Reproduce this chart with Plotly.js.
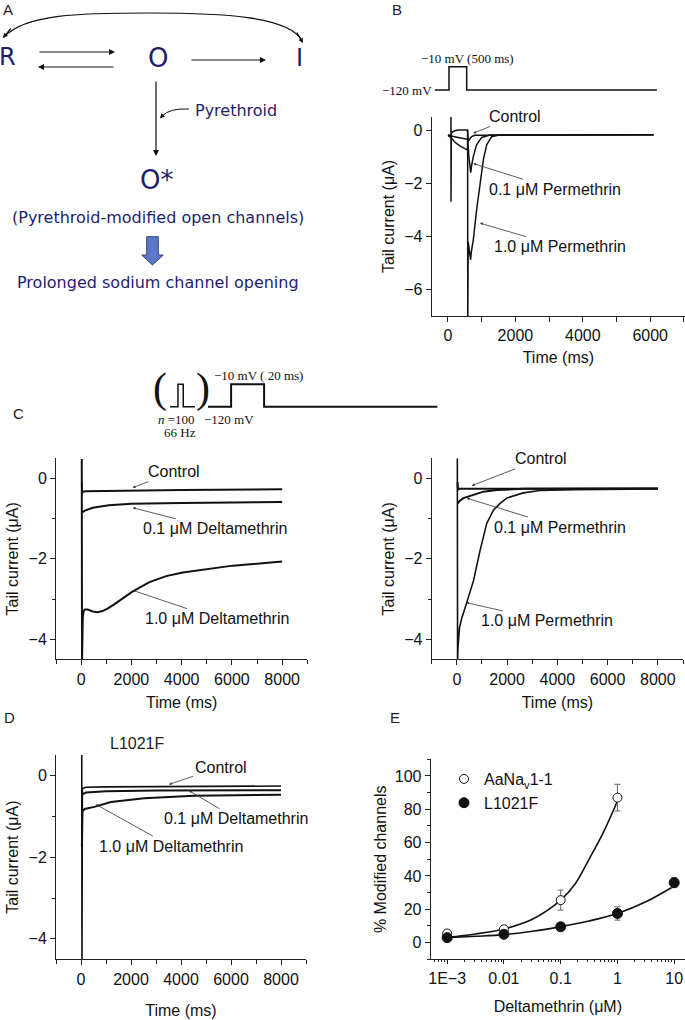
<!DOCTYPE html>
<html>
<head>
<meta charset="utf-8">
<script src="https://cdn.plot.ly/plotly-3.0.1.min.js"></script>
<style>html,body{margin:0;padding:0;background:#fff}#chart{width:685px;height:1020px}</style>
</head>
<body>
<div id="chart"></div>
<script>
// ---------- Panel B : tail currents (time ms, current µA) ----------
const bCtlT = [0, 88, 89, 90, 91, 100, 200, 300, 580, 600, 640, 700, 800, 6100];
const bCtlI = [-0.2, -0.2, 0.5, -2.7, -0.2, -0.1, -0.03, 0, 0, -0.42, -0.35, -0.25, -0.2, -0.18];
const bP01T = [0, 100, 300, 580, 585, 620, 650, 675, 700, 751, 850, 1000, 1246, 6100];
const bP01I = [-0.2, -0.22, -0.28, -0.35, -0.35, -1.0, -1.5, -1.6, -1.35, -1.0, -0.56, -0.28, -0.19, -0.18];
const bP1T = [0, 100, 200, 350, 500, 580, 583, 587, 600, 640, 660, 672, 690, 751, 850, 950, 1048, 1148, 1296, 1543, 6100];
const bP1I = [-0.2, -0.3, -0.45, -0.6, -0.7, -0.75, 0, -7.5, -4.2, -4.6, -4.8, -4.88, -4.6, -4.14, -3.0, -2.0, -1.13, -0.56, -0.25, -0.18, -0.18];
// Panel B voltage protocol (ms, mV)
const bProtT = [-390, 30, 30, 555, 555, 6200];
const bProtV = [-120, -120, -10, -10, -120, -120];

// ---------- Panel C voltage protocol (schematic units, mV) ----------
const cTrainT = [-23, -18.2, -18.2, -15, -15, -7.9];
const cTrainV = [-120, -120, -10, -10, -120, -120];
const cProtT = [0, 14, 14, 34, 34, 139];
const cProtV = [-120, -120, -10, -10, -120, -120];

// ---------- Panel C left : Deltamethrin ----------
const cdCtlT = [30, 40, 50, 200, 1000, 4000, 8000];
const cdCtlI = [-0.1, -0.38, -0.33, -0.32, -0.31, -0.29, -0.27];
const cd01T = [50, 150, 460, 1100, 2000, 4000, 8000];
const cd01I = [-0.84, -0.8, -0.73, -0.67, -0.63, -0.61, -0.59];
const cd1T = [25, 35, 66, 100, 150, 264, 463, 650, 850, 1050, 1300, 1550, 1800, 2055, 2719, 3383, 4046, 4708, 6036, 8000];
const cd1I = [0.48, -4.6, -3.46, -3.3, -3.26, -3.26, -3.31, -3.33, -3.3, -3.24, -3.14, -3.03, -2.92, -2.81, -2.58, -2.43, -2.34, -2.28, -2.17, -2.07];

// ---------- Panel C right : Permethrin ----------
const cpCtlT = [30, 45, 100, 8000];
const cpCtlI = [-0.1, -0.28, -0.26, -0.25];
const cp01T = [40, 100, 262, 661, 1058, 1587, 2645, 8000];
const cp01I = [-0.62, -0.57, -0.49, -0.40, -0.33, -0.29, -0.26, -0.25];
const cp1T = [20, 30, 45, 105, 198, 330, 462, 661, 926, 1190, 1455, 1720, 1984, 2645, 3306, 4630, 8000];
const cp1I = [0.5, -4.6, -4.22, -3.72, -3.47, -3.22, -2.97, -2.55, -1.79, -1.12, -0.79, -0.62, -0.49, -0.36, -0.30, -0.28, -0.26];

// ---------- Panel D : L1021F, Deltamethrin ----------
const dCtlT = [30, 40, 55, 200, 1000, 8000];
const dCtlI = [0.5, -4.5, -0.32, -0.29, -0.28, -0.26];
const d01T = [50, 200, 1000, 3000, 8000];
const d01I = [-0.46, -0.42, -0.39, -0.37, -0.36];
const d1T = [35, 55, 150, 530, 1195, 2523, 4515, 8000];
const d1I = [-1.75, -0.88, -0.82, -0.77, -0.65, -0.56, -0.5, -0.47];

// ---------- Panel E : % modified channels ----------
const eAaX = [0.001, 0.01, 0.1, 1];
const eAaY = [5.5, 8, 25.5, 87];
const eAaErr = [1.2, 1.5, 6, 8];
const eLX = [0.001, 0.01, 0.1, 1, 10];
const eLY = [3, 5, 9.5, 17.5, 36];
const eLErr = [0.8, 0.8, 1, 4, 3];
const fitAaX = [0.001, 0.00316, 0.01, 0.0316, 0.1, 0.178, 0.316, 0.562, 1];
const fitAaY = [3.2, 5.2, 8.2, 14, 25.5, 35, 50, 66, 85];
const fitLX = [0.001, 0.00316, 0.01, 0.0316, 0.1, 0.316, 1, 3.16, 10];
const fitLY = [3, 3.8, 4.8, 6.8, 9.6, 13, 17.5, 24.5, 34];
const eTickVals = [0.001, 0.01, 0.1, 1, 10];
const eTickText = ['1E\u22123', '0.01', '0.1', '1', '10'];

// ---------- helpers ----------
const W = 685, H = 1020;
const px = v => v / W;
const py = v => 1 - v / H;
const FONT = 'Liberation Sans, Arial, sans-serif';
const SERIF = 'Liberation Serif, Times New Roman, serif';
const NAVY = '#1e1e6a';

function axis(extra) {
  return Object.assign({
    showline: true, linecolor: '#222', linewidth: 1, ticks: 'outside', ticklen: 5,
    tickwidth: 1, tickcolor: '#222', showgrid: false, zeroline: false,
    tickfont: {size: 16, color: '#111', family: FONT}, fixedrange: true
  }, extra);
}
const hidden = extra => Object.assign({visible: false, fixedrange: true, showgrid: false, zeroline: false}, extra);

function line(x, y, xa, ya, w) {
  return {x: x, y: y, xaxis: xa, yaxis: ya, mode: 'lines', type: 'scatter',
          line: {color: '#111', width: w, shape: 'linear'}, showlegend: false, hoverinfo: 'skip'};
}

const traces = [
  line(bCtlT, bCtlI, 'x', 'y', 1.5),
  line(bP01T, bP01I, 'x', 'y', 1.5),
  line(bP1T, bP1I, 'x', 'y', 1.5),
  line(bProtT, bProtV, 'x6', 'y6', 1.5),
  line(cTrainT, cTrainV, 'x7', 'y7', 1.5),
  line(cProtT, cProtV, 'x7', 'y7', 2),
  line(cdCtlT, cdCtlI, 'x2', 'y2', 2),
  line(cd01T, cd01I, 'x2', 'y2', 2),
  line(cd1T, cd1I, 'x2', 'y2', 2),
  line(cpCtlT, cpCtlI, 'x3', 'y3', 2),
  line(cp01T, cp01I, 'x3', 'y3', 2),
  line(cp1T, cp1I, 'x3', 'y3', 1.6),
  line(dCtlT, dCtlI, 'x4', 'y4', 1.6),
  line(d01T, d01I, 'x4', 'y4', 2),
  line(d1T, d1I, 'x4', 'y4', 2),
  Object.assign(line(fitAaX, fitAaY, 'x5', 'y5', 1.6), {line: {color: '#111', width: 1.6, shape: 'spline'}}),
  Object.assign(line(fitLX, fitLY, 'x5', 'y5', 1.6), {line: {color: '#111', width: 1.6, shape: 'spline'}}),
  {x: eAaX, y: eAaY, xaxis: 'x5', yaxis: 'y5', type: 'scatter', mode: 'markers', name: 'AaNa<sub>v</sub>1-1',
   marker: {symbol: 'circle', size: 9, color: 'white', line: {color: '#111', width: 1}},
   error_y: {type: 'data', array: eAaErr, color: '#666', thickness: 1, width: 3}},
  {x: eLX, y: eLY, xaxis: 'x5', yaxis: 'y5', type: 'scatter', mode: 'markers', name: 'L1021F',
   marker: {symbol: 'circle', size: 10, color: '#111', line: {color: '#111', width: 1}},
   error_y: {type: 'data', array: eLErr, color: '#666', thickness: 1, width: 3}}
];

// ---------- annotations ----------
const ann = [];
function label(t, x, y, anchor, size) {
  ann.push({text: t, x: px(x), y: py(y), xref: 'paper', yref: 'paper', xanchor: anchor || 'left',
            yanchor: 'middle', showarrow: false, font: {size: size || 15, color: '#222', family: FONT}});
}
label('A', 1, 10); label('B', 390, 10); label('C', 11, 413); label('D', 2, 717); label('E', 388, 717);
label('L1021F', 137, 743, 'center', 16);

function callout(t, xa, ya, x, y, ax, ay) {
  ann.push({text: t, x: x, y: y, xref: xa, yref: ya, ax: ax, ay: ay, showarrow: true,
            arrowhead: 2, arrowsize: 0.7, arrowwidth: 0.8, arrowcolor: '#333', standoff: 0,
            font: {size: 16, color: '#111', family: FONT}});
}
callout('Control', 'x', 'y', 750, -0.12, 41.7, -16.6);
callout('0.1 μM Permethrin', 'x', 'y', 750, -1.26, 81.7, 25.8);
callout('1.0 μM Permethrin', 'x', 'y', 950, -3.5, 80, 23.6);
callout('Control', 'x2', 'y2', 2054, -0.23, 41.7, -16);
callout('0.1 μM Deltamethrin', 'x2', 'y2', 2054, -0.73, 82, 21);
callout('1.0 μM Deltamethrin', 'x2', 'y2', 2054, -2.785, 84, 28.3);
callout('Control', 'x3', 'y3', 595, -0.18, 69.1, -26.7);
callout('0.1 μM Permethrin', 'x3', 'y3', 397, -0.49, 93.3, 29);
callout('1.0 μM Permethrin', 'x3', 'y3', 370, -3.09, 80.7, 18.3);
callout('Control', 'x4', 'y4', 3518, -0.22, 51.7, -17.3);
callout('0.1 μM Deltamethrin', 'x4', 'y4', 4315, -0.37, 47.5, 28.3);
callout('1.0 μM Deltamethrin', 'x4', 'y4', 598, -0.71, 75, 41.7);

// protocol labels
function ptext(t, x, y, anchor, size, fam) {
  ann.push({text: t, x: px(x), y: py(y), xref: 'paper', yref: 'paper', xanchor: anchor, yanchor: 'middle',
            showarrow: false, font: {size: size || 13, color: '#111', family: fam || SERIF}});
}
ptext('\u2212120 mV', 434, 90, 'right');
ptext('\u221210 mV (500 ms)', 467, 58, 'center');
ptext('(', 160, 388, 'center', 42);
ptext(')', 203, 388, 'center', 42);
ptext('\u221210 mV ( 20 ms)', 212, 375, 'left');
ptext('<i>n</i> =100', 176, 419, 'center');
ptext('66 Hz', 180, 432, 'center');
ptext('\u2212120 mV', 229, 419, 'center');

// Panel A (diagram on hidden pixel-like axes x8/y8)
function atext(t, x, y, size) {
  ann.push({text: t, x: x, y: y, xref: 'x8', yref: 'y8', showarrow: false, xanchor: 'center', yanchor: 'middle',
            font: {size: size, color: NAVY, family: 'DejaVu Sans, sans-serif'}});
}
atext('R', 7, 57, 24); atext('O', 158, 58, 26); atext('I', 299, 58, 24);
atext('Pyrethroid', 236, 110, 16);
atext('O*', 156, 180, 26);
atext('(Pyrethroid-modified open channels)', 158, 217, 16);
atext('Prolonged sodium channel opening', 158, 282, 16);
function arrowA(x0, y0, x1, y1, size) {
  ann.push({text: '', x: x1, y: y1, ax: x0, ay: y0, xref: 'x8', yref: 'y8', axref: 'x8', ayref: 'y8',
            showarrow: true, arrowhead: 2, arrowsize: size || 1, arrowwidth: 1.2, arrowcolor: '#111', standoff: 0});
}
arrowA(38, 52, 115, 52);
arrowA(115, 67, 38, 67);
arrowA(190, 60, 266, 60);
arrowA(156, 80, 156, 156);
arrowA(164, 114, 160, 118.5, 0.8);
arrowA(12, 27, 3, 38, 0.8);
arrowA(296, 31, 303, 43, 0.8);

const shapes = [
  {type: 'path', xref: 'x8', yref: 'y8', path: 'M 4 37 C 25 14, 80 13, 150 13 S 290 16, 302 41',
   line: {color: '#111', width: 1.2}},
  {type: 'path', xref: 'x8', yref: 'y8',
   path: 'M 146.7 236.7 L 158.3 236.7 L 158.3 255 L 163.3 255 L 152.5 265 L 141.7 255 L 146.7 255 Z',
   fillcolor: '#5b78c6', line: {color: '#34457e', width: 1}},
  {type: 'path', xref: 'x8', yref: 'y8', path: 'M 189 109 Q 170 108, 162 116',
   line: {color: '#111', width: 1}}
];

const layout = {
  width: W, height: H, margin: {l: 0, r: 0, t: 0, b: 0}, autosize: false,
  paper_bgcolor: '#fff', plot_bgcolor: 'rgba(0,0,0,0)',
  font: {family: FONT, size: 16, color: '#111'},
  showlegend: true,
  legend: {x: px(444), y: py(762), xanchor: 'left', yanchor: 'top', bgcolor: 'rgba(0,0,0,0)',
           font: {size: 16, family: FONT, color: '#111'}, tracegroupgap: 0},
  // B
  xaxis: axis({domain: [px(431.7), 1], range: [-483, 7033], anchor: 'y', tick0: 0, dtick: 2000,
               minor: {dtick: 1000, ticks: 'outside', ticklen: 5, tickcolor: '#222'},
               title: {text: 'Time (ms)', standoff: 8, font: {size: 16}}}),
  yaxis: axis({domain: [py(316.2), py(116.7)], range: [-7, 0.5], anchor: 'x', dtick: 2, tick0: 0,
               title: {text: 'Tail current (μA)', standoff: 5, font: {size: 16}}}),
  // C left
  xaxis2: axis({domain: [px(56), px(307.3)], range: [-1000, 9000], anchor: 'y2', tick0: 0, dtick: 2000,
                minor: {dtick: 1000, ticks: 'outside', ticklen: 4, tickcolor: '#222'},
                title: {text: 'Time (ms)', standoff: 10, font: {size: 16}}}),
  yaxis2: axis({domain: [py(659.3), py(458.3)], range: [-4.5, 0.5], anchor: 'x2', dtick: 2, tick0: 0,
                minor: {dtick: 1, ticks: 'outside', ticklen: 3, tickcolor: '#222'},
                title: {text: 'Tail current (μA)', standoff: 5, font: {size: 16}}}),
  // C right
  xaxis3: axis({domain: [px(431.7), px(683)], range: [-1000, 9000], anchor: 'y3', tick0: 0, dtick: 2000,
                minor: {dtick: 1000, ticks: 'outside', ticklen: 4, tickcolor: '#222'},
                title: {text: 'Time (ms)', standoff: 10, font: {size: 16}}}),
  yaxis3: axis({domain: [py(659.3), py(458.3)], range: [-4.5, 0.5], anchor: 'x3', dtick: 2, tick0: 0,
                minor: {dtick: 1, ticks: 'outside', ticklen: 3, tickcolor: '#222'},
                title: {text: 'Tail current (μA)', standoff: 5, font: {size: 16}}}),
  // D
  xaxis4: axis({domain: [px(56), px(306)], range: [-1000, 9000], anchor: 'y4', tick0: 0, dtick: 2000,
                minor: {dtick: 1000, ticks: 'outside', ticklen: 4, tickcolor: '#222'},
                title: {text: 'Time (ms)', standoff: 18, font: {size: 16}}}),
  yaxis4: axis({domain: [py(959.3), py(755)], range: [-4.5, 0.5], anchor: 'x4', dtick: 2, tick0: 0,
                minor: {dtick: 1, ticks: 'outside', ticklen: 3, tickcolor: '#222'},
                title: {text: 'Tail current (μA)', standoff: 5, font: {size: 16}}}),
  // E
  xaxis5: axis({domain: [px(430.7), 1], type: 'log', range: [-3.29, 1.19], anchor: 'y5',
                tickmode: 'array', tickvals: eTickVals, ticktext: eTickText, ticklen: 4,
                minor: {dtick: 'D1', ticks: 'outside', ticklen: 2, tickcolor: '#222'},
                title: {text: 'Deltamethrin (μM)', standoff: 15, font: {size: 16}}}),
  yaxis5: axis({domain: [py(959.3), py(759.3)], range: [-10, 110], anchor: 'x5', dtick: 20, tick0: 0,
                minor: {dtick: 10, ticks: 'outside', ticklen: 3, tickcolor: '#222'},
                title: {text: '% Modified channels', standoff: 4, font: {size: 16}}}),
  // hidden: B protocol, C protocol, panel A diagram
  xaxis6: hidden({domain: [px(431.7), 1], range: [-483, 7033], anchor: 'y6'}),
  yaxis6: hidden({domain: [py(100), py(55)], range: [-167.2, 45.2], anchor: 'x6'}),
  xaxis7: hidden({domain: [px(150), px(440)], range: [-35.15, 140.61], anchor: 'y7'}),
  yaxis7: hidden({domain: [py(415), py(370)], range: [-160.8, 60.2], anchor: 'x7'}),
  xaxis8: hidden({domain: [0, px(340)], range: [0, 340], anchor: 'y8'}),
  yaxis8: hidden({domain: [py(310), 1], range: [310, 0], anchor: 'x8'}),
  annotations: ann,
  shapes: shapes
};

Plotly.newPlot('chart', traces, layout, {displayModeBar: false, staticPlot: true});
</script>
</body>
</html>
